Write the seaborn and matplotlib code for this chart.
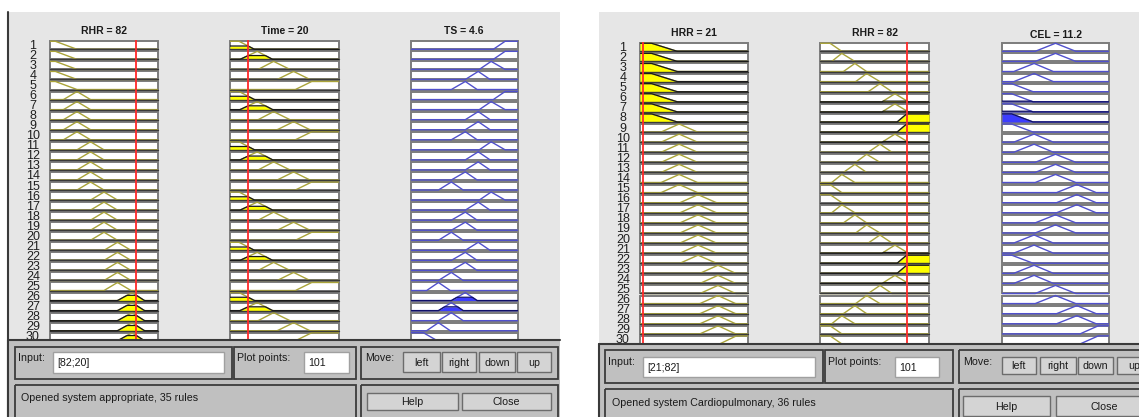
import numpy as np
import pandas as pd
import matplotlib
matplotlib.use("Agg")
import matplotlib.pyplot as plt
from matplotlib.patches import Rectangle
import seaborn as sns

sns.set_theme(style="white")
plt.rcParams['font.family'] = ['Liberation Sans', 'DejaVu Sans']

W, H = 1139, 417

# ---- system "appropriate" (35 rules, 30 visible) ----
rhr1_range = [50, 90]
rhr1_mfs = [[50, 50, 52, 60], [55, 60, 65], [60, 65, 70], [65, 70, 75], [70, 75, 80], [75, 80.4, 85]]
time_range = [0, 120]
time_mfs = [[0, 0, 10, 27], [11, 30, 47], [31, 48, 66], [52, 70, 88], [72, 90, 120, 120]]
ts_range = [0, 10]
ts_mfs = [[0, 0, 1.2, 2.5], [1.5, 2.6, 3.7], [2.6, 3.8, 4.9], [3.8, 5.1, 6.2],
          [5.1, 6.3, 7.4], [6.4, 7.5, 8.8], [7.7, 8.8, 10, 10]]
rule_rhr1 = [1, 1, 1, 1, 1, 2, 2, 2, 2, 2, 3, 3, 3, 3, 3, 4, 4, 4, 4, 4, 5, 5, 5, 5, 5, 6, 6, 6, 6, 6]
rule_time = [1, 2, 3, 4, 5, 1, 2, 3, 4, 5, 1, 2, 3, 4, 5, 1, 2, 3, 4, 5, 1, 2, 3, 4, 5, 1, 2, 3, 4, 5]
rule_ts = [7, 7, 6, 5, 4, 7, 6, 5, 5, 4, 6, 5, 5, 4, 3, 6, 5, 4, 4, 3, 5, 4, 4, 3, 2, 4, 3, 3, 2, 1]
input1 = [82, 20]
ts_out = 4.6

# ---- system "Cardiopulmonary" (36 rules, 30 visible) ----
hrr_range = [20, 60]
hrr_mfs = [[20, 20, 24.3, 33.8], [27.8, 34.5, 41.3], [34.8, 41.5, 48.3], [42.2, 48.9, 55.4], [49.5, 55.7, 60, 60]]
rhr2_range = [50, 90]
rhr2_mfs = [[50, 50, 53.7, 58], [54.3, 58, 62.8], [58.6, 62.8, 67.1], [63.1, 67.1, 72],
            [67.7, 72, 76.4], [72.8, 77.5, 82.4], [78.3, 81.8, 90, 90]]
cel_range = [0, 100]
cel_mfs = [[0, 0, 9, 29], [11, 30, 48], [31, 50, 69], [51, 70, 88], [73, 90, 100, 100]]
rule_hrr = [1, 1, 1, 1, 1, 1, 1, 1, 2, 2, 2, 2, 2, 2, 2, 3, 3, 3, 3, 3, 3, 3, 4, 4, 4, 4, 4, 4, 4, 5]
rule_rhr2 = [1, 2, 3, 4, 5, 6, 6, 7, 7, 6, 5, 4, 3, 2, 1, 1, 2, 3, 4, 5, 6, 7, 7, 6, 5, 4, 3, 2, 1, 1]
rule_cel = [3, 3, 2, 2, 1, 1, 1, 1, 1, 2, 2, 3, 3, 3, 4, 4, 4, 3, 3, 2, 2, 1, 2, 2, 3, 3, 4, 4, 5, 5]
input2 = [21, 82]
cel_out = 11.2

n_pts = 101
YELLOW_LINE = '#aaa43a'
BLUE_LINE = '#5050cc'


def mf(x, p):
    x = np.asarray(x, dtype=float)
    if len(p) == 3:
        p = [p[0], p[1], p[1], p[2]]
    a, b, c, d = p
    up = np.ones_like(x) if b == a else (x - a) / (b - a)
    down = np.ones_like(x) if d == c else (d - x) / (d - c)
    return np.clip(np.minimum(up, down), 0, 1)


fig = plt.figure(figsize=(W / 100, H / 100), dpi=100)

bg = fig.add_axes([0, 0, 1, 1], zorder=0)
bg.set_xlim(0, W)
bg.set_ylim(H, 0)
bg.axis('off')

ui = fig.add_axes([0, 0, 1, 1], zorder=5)
ui.set_xlim(0, W)
ui.set_ylim(H, 0)
ui.patch.set_alpha(0)
ui.axis('off')


def column(x0, x1, row0, sp, rng, mfs, rules, levels, kind, value=None):
    n = len(rules)
    top = row0 - 0.5 * sp
    bot = row0 + (n - 0.5) * sp
    ax = fig.add_axes([x0 / W, 1 - bot / H, (x1 - x0) / W, (bot - top) / H], zorder=2)
    lo, hi = rng
    x = np.linspace(lo, hi, n_pts)
    parts = []
    for r, k in enumerate(rules, start=1):
        ax.add_patch(Rectangle((lo, r - 0.4), hi - lo, 0.8, fc='white', ec='#7c7c7c',
                               lw=1.4, clip_on=False, zorder=1))
        mu = mf(x, mfs[k - 1])
        lev = levels[r - 1]
        if lev > 0:
            top_y = r + 0.4 - 0.8 * np.minimum(mu, lev)
            fc, ec = ('#ffff00', '#1a1a1a') if kind == 'in' else ('#3c3cff', '#10106a')
            ax.fill_between(x, r + 0.4, top_y, where=mu > 0, color=fc, lw=0, zorder=2)
            ax.plot(x, top_y, color=ec, lw=0.9, zorder=4)
        parts.append(pd.DataFrame({'x': x, 'y': r + 0.4 - 0.8 * mu, 'rule': r}))
    df = pd.concat(parts, ignore_index=True)
    sns.lineplot(data=df, x='x', y='y', units='rule', estimator=None, sort=False,
                 color=YELLOW_LINE if kind == 'in' else BLUE_LINE, lw=1.0,
                 ax=ax, legend=False, zorder=3)
    if kind == 'in':
        for r in range(1, n + 1):
            ax.plot([lo, hi], [r + 0.4, r + 0.4], color='#3a3a3a', lw=1.0, zorder=3.5, clip_on=False)
        ax.axvline(value, color='#ff2a2a', lw=1.3, zorder=6)
    ax.set_xlim(lo, hi)
    ax.set_ylim(n + 0.5, 0.5)
    ax.axis('off')
    return ax


def panel(left, right, top, row0, sp, ncol_x, titles, title_y, num_x, cols):
    bg.add_patch(Rectangle((left, top), right - left, H - top, fc='#e6e6e6', ec='none'))
    for (x0, x1), t, ty in zip(ncol_x, titles, title_y):
        bg.text((x0 + x1) / 2, ty, t, ha='center', va='center', fontsize=7.5,
                fontweight='bold', color='#1a1a1a')
    for r in range(1, 31):
        bg.text(num_x, row0 + (r - 1) * sp + 0.5, str(r), ha='center', va='center',
                fontsize=9, color='#202020')
    for (x0, x1), c in zip(ncol_x, cols):
        column(x0, x1, row0, sp, *c)


def controls(L):
    x0, y0, x1, y1 = L['panel']
    ui.add_patch(Rectangle((x0, y0), x1 - x0, y1 - y0, fc='#c0c0c0', ec='none'))
    ui.plot([x0, x1], [y0, y0], color='#3a3a3a', lw=1.5)
    ui.plot([x0, x0], [y0, y1], color='#3a3a3a', lw=1.5)
    for fx0, fy0, fx1, fy1 in L['frames']:
        ui.add_patch(Rectangle((fx0, fy0), fx1 - fx0, fy1 - fy0, fc='none', ec='#3c3c3c', lw=1.3))
    for tx, ty, t in L['labels']:
        ui.text(tx, ty, t, ha='left', va='center', fontsize=7.7, color='#1a1a1a')
    for fx0, fy0, fx1, fy1, t in L['fields']:
        ui.add_patch(Rectangle((fx0, fy0), fx1 - fx0, fy1 - fy0, fc='white', ec='#a0a0a0', lw=1))
        ui.text(fx0 + 4, (fy0 + fy1) / 2 + 1, t, ha='left', va='center', fontsize=7.7, color='#1a1a1a')
    for bx0, by0, bx1, by1, t in L['buttons']:
        ui.add_patch(Rectangle((bx0, by0), bx1 - bx0, by1 - by0, fc='#d4d4d4', ec='#6c6c6c', lw=1))
        ui.text((bx0 + bx1) / 2, (by0 + by1) / 2 + 0.5, t, ha='center', va='center',
                fontsize=7.7, color='#1a1a1a')


# left system
lv_rhr1 = [float(mf([input1[0]], rhr1_mfs[k - 1])[0]) for k in rule_rhr1]
lv_time = [float(mf([input1[1]], time_mfs[k - 1])[0]) for k in rule_time]
fire1 = [min(a, b) for a, b in zip(lv_rhr1, lv_time)]
panel(8, 560, 12, 45.3, 10.05, [(50, 158), (230, 339), (410.5, 518)],
      [f"RHR = {input1[0]}", f"Time = {input1[1]}", f"TS = {ts_out}"], [31, 31, 31], 33,
      [(rhr1_range, rhr1_mfs, rule_rhr1, lv_rhr1, 'in', input1[0]),
       (time_range, time_mfs, rule_time, lv_time, 'in', input1[1]),
       (ts_range, ts_mfs, rule_ts, fire1, 'out')])
bg.plot([8, 8], [12, H], color='#3a3a3a', lw=1.5)

# right system
lv_hrr = [float(mf([input2[0]], hrr_mfs[k - 1])[0]) for k in rule_hrr]
lv_rhr2 = [float(mf([input2[1]], rhr2_mfs[k - 1])[0]) for k in rule_rhr2]
fire2 = [min(a, b) for a, b in zip(lv_hrr, lv_rhr2)]
panel(599, W, 12, 47.3, 10.09, [(640, 748), (820, 929), (1002, 1109)],
      [f"HRR = {input2[0]}", f"RHR = {input2[1]}", f"CEL = {cel_out}"], [33, 33, 34.5], 623,
      [(hrr_range, hrr_mfs, rule_hrr, lv_hrr, 'in', input2[0]),
       (rhr2_range, rhr2_mfs, rule_rhr2, lv_rhr2, 'in', input2[1]),
       (cel_range, cel_mfs, rule_cel, fire2, 'out')])

controls({
    'panel': (8, 340, 560, H),
    'frames': [(15, 347, 232, 379), (234, 347, 356, 379), (361, 347, 558, 379),
               (15, 385, 356, 422), (361, 385, 558, 422)],
    'labels': [(18, 358, 'Input:'), (237, 358, 'Plot points:'), (365, 358, 'Move:'),
               (21, 398, 'Opened system appropriate, 35 rules')],
    'fields': [(53, 352, 224, 373, '[82;20]'), (304, 352, 349, 373, '101')],
    'buttons': [(403, 352, 440, 372, 'left'), (442, 352, 476, 372, 'right'),
                (479, 352, 515, 372, 'down'), (517, 352, 551, 372, 'up'),
                (367, 393, 458, 410, 'Help'), (462, 393, 551, 410, 'Close')],
})
controls({
    'panel': (599, 344, W, H),
    'frames': [(605, 350, 823, 383), (825, 350, 953, 383), (959, 350, 1150, 383),
               (605, 389, 953, 422), (959, 389, 1150, 422)],
    'labels': [(608, 362, 'Input:'), (828, 362, 'Plot points:'), (963, 362, 'Move:'),
               (612, 403, 'Opened system Cardiopulmonary, 36 rules')],
    'fields': [(643, 357, 815, 377, '[21;82]'), (895, 357, 939, 377, '101')],
    'buttons': [(1002, 357, 1036, 374, 'left'), (1040, 357, 1076, 374, 'right'),
                (1078, 357, 1113, 374, 'down'), (1117, 357, 1152, 374, 'up'),
                (963, 396, 1050, 416, 'Help'), (1056, 396, 1152, 416, 'Close')],
})

fig.savefig('out.png', dpi=100)
